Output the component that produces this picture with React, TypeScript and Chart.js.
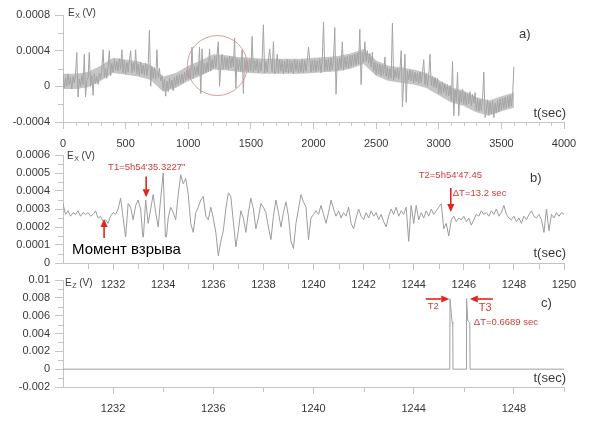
import React, { useEffect, useRef } from "react";
import { Chart, registerables } from "chart.js";
Chart.register(...registerables);

const FONT = "'Liberation Sans', Arial, Helvetica, sans-serif";
const AXIS_COLOR = "#c4c4c4";
const TICK_TEXT = "#383838";
const RED_TEXT = "#cf3d37";
const RED_ARROW = "#e2231e";

// ---------------- panel a: E_X over 0..3600 s (values in 1e-5 V, every 10 s) ----------------
const A_T_STEP = 10;
const A_UNIT = 1e-5;
const A_VALUES = [
  12, -2, 9, 0, 14, 2, 10, -3, 11, 4,
  13, 38, -12, 8, 0, 12, 2, 36, -12, 6,
  10, 38, 0, 12, -10, 14, 3, 11, 2, 15,
  8, 18, 41, 10, 20, 9, 22, 40, 12, 26,
  16, 30, 18, 28, 17, 31, 19, 41, 15, 29,
  14, 27, 16, 29, 40, 15, 26, 17, 41, 14,
  25, 12, 27, 14, 24, 13, 26, 12, 23, 63,
  0, 22, 9, 21, 8, 41, 10, 20, 6, 12,
  -4, 8, -11, 6, -6, 9, -2, 7, -5, 10,
  0, 12, 2, 13, 3, 14, 4, 16, 7, 18,
  8, 20, 10, 44, 9, 22, 12, 23, 13, 44,
  -8, 42, 14, 26, 15, 27, 16, 42, 17, 30,
  20, 34, 21, 35, 50, 0, 22, 36, 19, 33,
  20, 32, 19, 34, 21, 33, 22, 54, -2, 31,
  18, 30, 17, 41, -8, 31, 18, 29, 16, 30,
  17, 56, 16, 29, 18, 30, 15, 28, 17, 30,
  69, 15, 28, 16, 29, 42, 28, 16, 50, 14,
  16, 36, 15, 30, 17, 29, 14, 28, 16, 30,
  15, 29, 16, 28, 14, 30, 17, 29, 15, 28,
  16, 30, 15, 29, 17, 28, 44, 30, 16, 29,
  17, 30, 16, 29, 18, 31, 15, 30, 72, 17,
  30, 18, 31, 17, 32, 19, 30, 66, -9, 31,
  19, 32, 20, 50, 18, 33, 21, 34, 20, 35,
  22, 35, 23, 36, 24, 37, 25, 64, 2, 38,
  27, 50, 28, 40, 26, 37, 22, 38, 17, 27,
  13, 26, 14, 25, 12, 24, 13, 33, 11, 21,
  8, 20, 9, 71, 7, 19, 10, 20, 8, 18,
  40, -23, 6, 36, -18, 17, 7, 18, 6, 17,
  4, 16, 5, 15, 3, 16, 4, 15, 30, 2,
  14, 0, 12, 36, 1, 11, -1, 10, -2, 9,
  -8, 4, -9, 5, -7, 3, -10, 2, -11, 1,
  -16, 28, -33, -4, -17, 16, -33, -5, -18, -3,
  -20, -7, -21, -8, -20, -6, -22, -9, -19, -7,
  -27, -14, -28, -15, -27, -13, 16, -35, -28, -15,
  -32, -18, -31, -17, -35, -19, -30, -16, -29, -14,
  -26, -13, -25, -12, -24, -11, -23, -10, -22, -9,
  22,
];
// noise band envelope of panel a (1e-5 V, every 100 s)
const A_ENV_T_STEP = 100;
const A_UPPER = [14, 14, 16, 23, 32, 30, 28, 24, 11, 15, 23, 29, 36, 35, 33, 32, 31, 31, 31, 31, 32, 33, 34, 37, 42, 29, 23, 21, 19, 15, 7, -1, -5, -12, -16, -11, -7];
const A_LOWER = [-3, -3, -1, 6, 15, 13, 11, 7, -6, -2, 6, 12, 19, 18, 16, 15, 14, 14, 14, 14, 15, 16, 17, 20, 25, 12, 6, 4, 2, -2, -10, -18, -22, -29, -33, -28, -24];
const A_X_TICKS = [0, 500, 1000, 1500, 2000, 2500, 3000, 3500, 4000];
const A_X_LABELS = ["0", "500", "1000", "1500", "2000", "2500", "3000", "3500", "4000"];
const A_Y_TICKS = [-0.0004, 0, 0.0004, 0.0008];
const A_Y_LABELS = ["-0.0004", "0", "0.0004", "0.0008"];
const A_CIRCLE = { x: 1232, y: 0.000233, r: 30 };
const A_TEXTS = [{ x: 3640, y: 0.00058, text: "a)", color: TICK_TEXT, size: 13 }];

// ---------------- panel b: E_X 1230..1250 s (values in 1e-5 V, every 0.1 s) ----------------
const B_T0 = 1230;
const B_T_STEP = 0.1;
const B_UNIT = 1e-5;
const B_VALUES = [
  33, 27, 29, 26, 28, 27, 29, 26, 28, 27,
  28, 26, 27, 29, 25, 26, 23, 24, 22, 26,
  28, 27, 30, 36, 25, 14, 33, 31, 24, 32,
  35, 30, 12, 35, 22, 30, 38, 28, 20, 36,
  50, 10, 25, 31, 28, 24, 38, 49, 44, 47,
  38, 22, 17, 28, 31, 35, 37, 26, 24, 31,
  25, 17, 4, 12, 18, 30, 39, 37, 23, 9,
  18, 29, 25, 17, 28, 36, 30, 19, 25, 33,
  31, 28, 20, 13, 26, 35, 28, 20, 28, 34,
  26, 12, 8, 22, 30, 38, 34, 31, 13, 25,
  27, 29, 27, 32, 27, 22, 28, 35, 30, 26,
  29, 25, 28, 26, 31, 22, 19, 25, 30, 26,
  24, 28, 25, 29, 26, 28, 24, 27, 23, 20,
  26, 30, 27, 31, 26, 29, 27, 31, 12, 32,
  22, 32, 24, 28, 25, 29, 26, 30, 27, 29,
  31, 33, 19, 22, 15, 24, 26, 23, 25, 24,
  26, 23, 25, 21, 24, 27, 26, 29, 27, 28,
  26, 29, 27, 30, 26, 28, 32, 27, 25, 24,
  26, 23, 25, 22, 26, 24, 27, 29, 26, 25,
  27, 24, 17, 30, 18, 27, 25, 28, 26, 28,
  27,
];
const B_X_TICKS = [1232, 1234, 1236, 1238, 1240, 1242, 1244, 1246, 1248, 1250];
const B_X_LABELS = ["1232", "1234", "1236", "1238", "1240", "1242", "1244", "1246", "1248", "1250"];
const B_Y_TICKS = [0, 0.0001, 0.0002, 0.0003, 0.0004, 0.0005, 0.0006];
const B_Y_LABELS = ["0", "0.0001", "0.0002", "0.0003", "0.0004", "0.0005", "0.0006"];
const B_BOX = [1230.08, 0.000144, 1234.8, 0.000004];
const B_TEXTS = [
  { x: 1248.64, y: 0.000472, text: "b)", color: TICK_TEXT, size: 13 },
  { x: 1231.8, y: 0.000533, text: "T1=5h54'35.3227\"", color: RED_TEXT, size: 9.5 },
  { x: 1230.36, y: 0.000072, text: "Момент взрыва", color: "#000", size: 15 },
  { x: 1244.2, y: 0.000489, text: "T2=5h54'47.45", color: RED_TEXT, size: 9.5 },
  { x: 1245.56, y: 0.000389, text: "ΔT=13.2 sec", color: RED_TEXT, size: 9.5 },
];
const B_ARROWS = [
  { x0: 1233.32, y0: 0.00048, x1: 1233.32, y1: 0.000365 },
  { x0: 1231.64, y0: 0.000139, x1: 1231.64, y1: 0.000244 },
  { x0: 1245.48, y0: 0.000417, x1: 1245.48, y1: 0.000283 },
];

// ---------------- panel c: E_Z 1230..1250 s (values in 1e-3 V) ----------------
const C_UNIT = 1e-3;
const C_T = [1230, 1245.44, 1245.45, 1245.53, 1245.56, 1245.57, 1246.1, 1246.11, 1246.16, 1246.24, 1246.25, 1250];
const C_V = [0, 0, 7.9, 5.3, 5.1, 0, 0, 7.9, 5.4, 5.2, 0, 0];
const C_X_TICKS = [1232, 1236, 1240, 1244, 1248];
const C_X_LABELS = ["1232", "1236", "1240", "1244", "1248"];
const C_Y_TICKS = [-0.002, 0, 0.002, 0.004, 0.006, 0.008, 0.01];
const C_Y_LABELS = ["-0.002", "0", "0.002", "0.004", "0.006", "0.008", "0.01"];
const C_TEXTS = [
  { x: 1249.08, y: 0.0074, text: "c)", color: TICK_TEXT, size: 13 },
  { x: 1244.56, y: 0.007, text: "T2", color: RED_TEXT, size: 9.5 },
  { x: 1246.6, y: 0.00685, text: "T3", color: RED_TEXT, size: 11 },
  { x: 1246.4, y: 0.00528, text: "ΔT=0.6689 sec", color: RED_TEXT, size: 9.5 },
];
const C_ARROWS = [
  { x0: 1244.48, y0: 0.00787, x1: 1245.42, y1: 0.00787 },
  { x0: 1247.16, y0: 0.00787, x1: 1246.24, y1: 0.00787 },
];

type Txt = { x: number; y: number; text: string; color: string; size: number };
type Arr = { x0: number; y0: number; x1: number; y1: number };
type Pt = { x: number; y: number };
type Spec = {
  points: Pt[];
  band?: { upper: Pt[]; lower: Pt[] };
  xMin: number; xMax: number; yMin: number; yMax: number;
  xTicks: number[]; xLabels: string[]; yTicks: number[]; yLabels: string[];
  xMinor: number; xMinorLen: number; yMinor: number; yMinorLen: number;
  padTop: number; padRight: number; xAxisH: number;
  lineColor: string;
  title: { sub: string; dx: number; dy: number };
  tsecDy: number;
  texts: Txt[]; arrows: Arr[];
  box?: number[]; circle?: { x: number; y: number; r: number };
};

function drawArrow(ctx: CanvasRenderingContext2D, x0: number, y0: number, x1: number, y1: number) {
  const ang = Math.atan2(y1 - y0, x1 - x0);
  const hl = 8, hw = 3.6;
  const bx = x1 - Math.cos(ang) * hl, by = y1 - Math.sin(ang) * hl;
  ctx.save();
  ctx.strokeStyle = RED_ARROW;
  ctx.fillStyle = RED_ARROW;
  ctx.lineWidth = 1.6;
  ctx.beginPath();
  ctx.moveTo(x0, y0);
  ctx.lineTo(bx, by);
  ctx.stroke();
  ctx.beginPath();
  ctx.moveTo(x1, y1);
  ctx.lineTo(bx - Math.sin(ang) * hw, by + Math.cos(ang) * hw);
  ctx.lineTo(bx + Math.sin(ang) * hw, by - Math.cos(ang) * hw);
  ctx.closePath();
  ctx.fill();
  ctx.restore();
}

function makeOverlay(spec: Spec) {
  return {
    id: "overlay",
    afterDatasetsDraw(chart: any) {
      const ctx: CanvasRenderingContext2D = chart.ctx;
      const xs = chart.scales.x, ys = chart.scales.y;
      const ca = chart.chartArea;
      const px = (v: number) => xs.getPixelForValue(v);
      const py = (v: number) => ys.getPixelForValue(v);
      ctx.save();
      // minor ticks
      ctx.strokeStyle = AXIS_COLOR;
      ctx.lineWidth = 1;
      const nx = Math.round((spec.xMax - spec.xMin) / spec.xMinor);
      for (let i = 1; i <= nx; i++) {
        const v = spec.xMin + i * spec.xMinor;
        if (spec.xTicks.some((m) => Math.abs(m - v) < spec.xMinor * 1e-3)) continue;
        const p = Math.round(px(v)) + 0.5;
        ctx.beginPath();
        ctx.moveTo(p, ca.bottom);
        ctx.lineTo(p, ca.bottom + spec.xMinorLen);
        ctx.stroke();
      }
      const ny = Math.round((spec.yMax - spec.yMin) / spec.yMinor);
      for (let i = 0; i <= ny; i++) {
        const v = spec.yMin + i * spec.yMinor;
        if (spec.yTicks.some((m) => Math.abs(m - v) < spec.yMinor * 1e-3)) continue;
        const p = Math.round(py(v)) + 0.5;
        ctx.beginPath();
        ctx.moveTo(ca.left - spec.yMinorLen, p);
        ctx.lineTo(ca.left, p);
        ctx.stroke();
      }
      // white box
      if (spec.box) {
        const [x0, y0, x1, y1] = spec.box;
        ctx.fillStyle = "#fff";
        ctx.fillRect(px(x0), py(y0), px(x1) - px(x0), py(y1) - py(y0));
      }
      // circle
      if (spec.circle) {
        ctx.strokeStyle = "rgba(214,140,140,0.85)";
        ctx.lineWidth = 1;
        ctx.beginPath();
        ctx.arc(px(spec.circle.x), py(spec.circle.y), spec.circle.r, 0, Math.PI * 2);
        ctx.stroke();
      }
      // texts
      ctx.textBaseline = "middle";
      ctx.textAlign = "left";
      for (const t of spec.texts) {
        ctx.fillStyle = t.color;
        ctx.font = `${t.size}px ${FONT}`;
        ctx.fillText(t.text, px(t.x), py(t.y));
      }
      for (const a of spec.arrows) drawArrow(ctx, px(a.x0), py(a.y0), px(a.x1), py(a.y1));
      // axis title E_x (V)
      let tx = ca.left + spec.title.dx;
      const ty = ca.top + spec.title.dy;
      ctx.fillStyle = TICK_TEXT;
      ctx.font = `10px ${FONT}`;
      ctx.fillText("E", tx, ty);
      tx += ctx.measureText("E").width + 0.5;
      ctx.font = `7px ${FONT}`;
      ctx.fillText(spec.title.sub, tx, ty + 3);
      tx += ctx.measureText(spec.title.sub).width;
      ctx.font = `10px ${FONT}`;
      ctx.fillText(" (V)", tx, ty);
      // t(sec)
      ctx.textAlign = "right";
      ctx.font = `13px ${FONT}`;
      ctx.fillText("t(sec)", ca.right + 2, ca.bottom - spec.tsecDy);
      ctx.restore();
    },
  };
}

function build(canvas: HTMLCanvasElement, s: Spec) {
  const axisCommon = {
    grid: { display: true, drawOnChartArea: false, drawTicks: true, color: AXIS_COLOR, lineWidth: 1 },
    border: { display: true, color: AXIS_COLOR, width: 1 },
  };
  const datasets: any[] = [
    {
      data: s.points,
      borderColor: s.lineColor,
      borderWidth: 1,
      pointRadius: 0,
      fill: false,
      tension: 0,
    },
  ];
  if (s.band) {
    datasets.push({
      data: s.band.lower,
      borderWidth: 0,
      borderColor: "rgba(0,0,0,0)",
      pointRadius: 0,
      fill: false,
      tension: 0,
    });
    datasets.push({
      data: s.band.upper,
      borderWidth: 0,
      borderColor: "rgba(0,0,0,0)",
      backgroundColor: "rgba(172,172,172,0.7)",
      pointRadius: 0,
      fill: "-1",
      tension: 0,
    });
  }
  return new Chart(canvas, {
    type: "line",
    data: { datasets },
    options: {
      animation: false,
      responsive: false,
      devicePixelRatio: 1,
      parsing: false,
      events: [],
      layout: { padding: { top: s.padTop, right: s.padRight, left: 0, bottom: 0 } },
      plugins: { legend: { display: false }, tooltip: { enabled: false }, title: { display: false } },
      scales: {
        x: {
          type: "linear",
          min: s.xMin,
          max: s.xMax,
          afterBuildTicks: (sc: any) => {
            sc.ticks = s.xTicks.map((v) => ({ value: v }));
          },
          afterFit: (sc: any) => {
            sc.height = s.xAxisH;
          },
          ticks: {
            autoSkip: false,
            maxRotation: 0,
            padding: 8,
            color: TICK_TEXT,
            font: { family: FONT, size: 11 },
            callback: (v: any) => s.xLabels[s.xTicks.indexOf(v)] ?? "",
          },
          grid: { ...axisCommon.grid, tickLength: 7 },
          border: axisCommon.border,
        },
        y: {
          type: "linear",
          min: s.yMin,
          max: s.yMax,
          afterBuildTicks: (sc: any) => {
            sc.ticks = s.yTicks.map((v) => ({ value: v }));
          },
          afterFit: (sc: any) => {
            sc.width = 63;
          },
          ticks: {
            autoSkip: false,
            padding: 5,
            color: TICK_TEXT,
            font: { family: FONT, size: 11 },
            callback: (v: any) => s.yLabels[s.yTicks.indexOf(v)] ?? "",
          },
          grid: { ...axisCommon.grid, tickLength: 8 },
          border: axisCommon.border,
        },
      },
    } as any,
    plugins: [makeOverlay(s) as any],
  });
}

const SPEC_A: Spec = {
  points: A_VALUES.map((v, i) => ({ x: i * A_T_STEP, y: v * A_UNIT })),
  band: {
    upper: A_UPPER.map((v, i) => ({ x: i * A_ENV_T_STEP, y: v * A_UNIT })),
    lower: A_LOWER.map((v, i) => ({ x: i * A_ENV_T_STEP, y: v * A_UNIT })),
  },
  xMin: 0, xMax: 4000, yMin: -0.0004, yMax: 0.0008,
  xTicks: A_X_TICKS, xLabels: A_X_LABELS, yTicks: A_Y_TICKS, yLabels: A_Y_LABELS,
  xMinor: 100, xMinorLen: 4, yMinor: 0.0002, yMinorLen: 5,
  padTop: 15, padRight: 36, xAxisH: 33,
  lineColor: "#a4a4a4",
  title: { sub: "X", dx: 5, dy: -2 },
  tsecDy: 9,
  texts: A_TEXTS, arrows: [], circle: A_CIRCLE,
};

const SPEC_B: Spec = {
  points: B_VALUES.map((v, i) => ({ x: B_T0 + i * B_T_STEP, y: v * B_UNIT })),
  xMin: 1230, xMax: 1250, yMin: 0, yMax: 0.0006,
  xTicks: B_X_TICKS, xLabels: B_X_LABELS, yTicks: B_Y_TICKS, yLabels: B_Y_LABELS,
  xMinor: 1, xMinorLen: 6, yMinor: 0.00005, yMinorLen: 5,
  padTop: 15, padRight: 36, xAxisH: 32,
  lineColor: "#9c9c9c",
  title: { sub: "X", dx: 4, dy: 1 },
  tsecDy: 10,
  texts: B_TEXTS, arrows: B_ARROWS, box: B_BOX,
};

const SPEC_C: Spec = {
  points: C_T.map((t, i) => ({ x: t, y: C_V[i] * C_UNIT })),
  xMin: 1230, xMax: 1250, yMin: -0.002, yMax: 0.01,
  xTicks: C_X_TICKS, xLabels: C_X_LABELS, yTicks: C_Y_TICKS, yLabels: C_Y_LABELS,
  xMinor: 2, xMinorLen: 5, yMinor: 0.001, yMinorLen: 5,
  padTop: 15, padRight: 36, xAxisH: 33,
  lineColor: "#a0a0a0",
  title: { sub: "Z", dx: 2, dy: 3 },
  tsecDy: 9,
  texts: C_TEXTS, arrows: C_ARROWS,
};

export default function App() {
  const ra = useRef<HTMLCanvasElement>(null);
  const rb = useRef<HTMLCanvasElement>(null);
  const rc = useRef<HTMLCanvasElement>(null);
  useEffect(() => {
    const charts = [build(ra.current!, SPEC_A), build(rb.current!, SPEC_B), build(rc.current!, SPEC_C)];
    return () => charts.forEach((c) => c.destroy());
  }, []);
  const cs: React.CSSProperties = { position: "absolute", left: 0, width: 600, height: 155 };
  return (
    <div style={{ position: "absolute", left: 0, top: 0, width: 600, height: 425, background: "#fff" }}>
      <canvas ref={ra} width={600} height={155} style={{ ...cs, top: 0 }} />
      <canvas ref={rb} width={600} height={155} style={{ ...cs, top: 140 }} />
      <canvas ref={rc} width={600} height={155} style={{ ...cs, top: 265 }} />
    </div>
  );
}
